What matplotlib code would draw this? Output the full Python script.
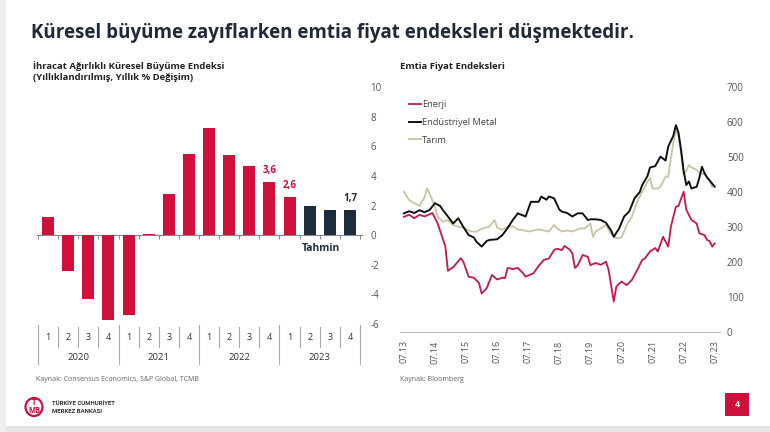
import matplotlib
matplotlib.use("Agg")
import matplotlib.pyplot as plt
import matplotlib.transforms as mtransforms
from matplotlib.patches import Rectangle, Ellipse
import numpy as np
import pandas as pd

plt.rcParams['font.family'] = ['Open Sans', 'DejaVu Sans']

# ---------------- data: left chart ----------------
quarters = ["1", "2", "3", "4"] * 4
years = ["2020", "2021", "2022", "2023"]
growth = [1.2, -2.4, -4.3, -5.7, -5.4, 0.05, 2.8, 5.5, 7.2, 5.4, 4.7, 3.6, 2.6, 2.0, 1.7, 1.7]
is_forecast = [False] * 13 + [True] * 3
bar_labels = {11: "3,6", 12: "2,6", 15: "1,7"}
left_yticks = [-6, -4, -2, 0, 2, 4, 6, 8, 10]

# ---------------- data: right chart (months after 2013-07) ----------------
energy_m = [0, 2, 4, 6, 8, 11, 13, 16, 17, 19, 22, 23, 25, 27, 29, 30, 32, 34, 36, 38, 39, 40, 42, 44,
            46, 47, 50, 52, 54, 56, 58, 59, 61, 62, 64, 65, 66, 67, 69, 71, 72, 74, 76, 78, 79, 81, 82,
            84, 86, 88, 90, 92, 93, 95, 97, 98, 100, 102, 103, 105, 106, 108, 109, 111, 113, 114, 116,
            117, 118, 119, 120]
energy_v = [329, 335, 325, 335, 330, 340, 311, 244, 175, 185, 211, 200, 158, 155, 140, 110, 125, 163,
            150, 155, 154, 183, 180, 183, 168, 158, 168, 189, 206, 210, 234, 238, 234, 246, 235, 225,
            183, 190, 220, 215, 191, 197, 192, 201, 177, 87, 130, 144, 134, 149, 177, 206, 210, 230,
            240, 230, 272, 244, 301, 358, 360, 401, 349, 320, 310, 282, 277, 263, 260, 244, 253]

metal_m = [0, 2, 4, 6, 8, 10, 12, 14, 15, 17, 19, 21, 23, 25, 27, 28, 30, 32, 33, 36, 38, 40, 42, 44,
           47, 49, 52, 53, 55, 56, 58, 60, 61, 63, 65, 67, 69, 71, 72, 74, 76, 78, 80, 81, 83, 85, 87,
           89, 91, 92, 94, 95, 97, 99, 101, 102, 104, 105, 106, 107, 108, 109, 110, 111, 113, 114, 115,
           116, 117, 119, 120]
metal_v = [339, 345, 340, 348, 342, 349, 368, 360, 349, 330, 310, 325, 300, 277, 270, 258, 244, 260,
           263, 265, 277, 297, 320, 339, 330, 372, 372, 387, 378, 387, 382, 350, 344, 340, 330, 339,
           339, 320, 322, 322, 320, 312, 290, 272, 295, 330, 345, 382, 400, 420, 445, 470, 474, 501,
           490, 530, 560, 591, 570, 520, 460, 420, 430, 410, 415, 440, 472, 455, 442, 424, 415]

agri_m = [0, 2, 4, 6, 8, 9, 10, 12, 13, 15, 17, 19, 21, 23, 26, 28, 30, 33, 35, 36, 38, 40, 42, 44, 46,
          48, 50, 52, 54, 56, 58, 59, 61, 63, 65, 68, 70, 72, 73, 74, 76, 78, 80, 82, 84, 86, 88, 90, 92,
          94, 95, 96, 98, 99, 101, 102, 103, 104, 105, 106, 107, 108, 109, 110, 111, 113, 114, 116, 118,
          119]
agri_v = [401, 377, 368, 360, 385, 410, 395, 358, 330, 315, 320, 305, 301, 298, 287, 287, 295, 301, 320,
          298, 292, 301, 302, 293, 291, 287, 290, 293, 290, 287, 306, 297, 287, 290, 287, 296, 296, 310,
          272, 287, 296, 306, 280, 268, 270, 306, 330, 372, 400, 429, 440, 410, 410, 415, 444, 444, 496,
          540, 577, 560, 506, 450, 460, 477, 470, 463, 455, 450, 434, 415]

series_names = ["Enerji", "Endüstriyel Metal", "Tarım"]
right_yticks = [0, 100, 200, 300, 400, 500, 600, 700]
start = pd.Timestamp("2013-07-01")
tick_years = list(range(2013, 2024))

# ---------------- styles ----------------
RED = "#d0103a"
DARK = "#1d2d3c"
ENERGY_C = "#c8174a"
METAL_C = "#111111"
AGRI_C = "#c9c4a2"
GREY_TXT = "#555555"
NAVY = "#1e2a3a"

W, H = 770, 432
fig = plt.figure(figsize=(W / 100, H / 100), dpi=100, facecolor="white")


def fx(px):
    return px / W


def fy(py):
    return 1 - py / H


# Title
fig.text(fx(31), fy(38), "Küresel büyüme zayıflarken emtia fiyat endeksleri düşmektedir.",
         fontsize=13.5, fontweight="bold", color=NAVY, va="baseline", ha="left")

# ---------------- left chart ----------------
axL = fig.add_axes([fx(37), fy(324), fx(362) - fx(37), fy(87) - fy(324)])
axL.set_facecolor("none")
x = np.arange(len(growth))
colors = [DARK if f else RED for f in is_forecast]
axL.bar(x, growth, width=0.6, color=colors, zorder=3)
axL.set_xlim(-0.55, 15.6)
axL.set_ylim(-6, 10)
for s in ["top", "left", "right"]:
    axL.spines[s].set_visible(False)
axL.spines["bottom"].set_position(("data", 0))
axL.spines["bottom"].set_color("#888888")
axL.spines["bottom"].set_linewidth(0.8)
axL.set_xticks(np.arange(-0.5, 16, 1.0))
axL.set_xticklabels([])
axL.tick_params(axis="x", direction="out", length=3, color="#888888", width=0.7)
axL.yaxis.tick_right()
axL.set_yticks(left_yticks)
axL.set_yticklabels([str(v) for v in left_yticks])
axL.tick_params(axis="y", length=0, labelsize=7, labelcolor=GREY_TXT, pad=6)
for i, lab in bar_labels.items():
    c = DARK if is_forecast[i] else RED
    axL.annotate(lab, (x[i], growth[i]), xytext=(0, 4), textcoords="offset points",
                 ha="center", va="bottom", fontsize=7, fontweight="bold", color=c)
axL.text(13.55, -0.55, "Tahmin", ha="center", va="top", fontsize=7.5, fontweight="bold", color=DARK)

# category table under the chart
trans = mtransforms.blended_transform_factory(axL.transData, fig.transFigure)
for i, q in enumerate(quarters):
    axL.text(i, fy(338), q, transform=trans, ha="center", va="center", fontsize=6.5, color="#333333")
for k in range(17):
    xb = k - 0.5
    if k % 4 == 0:
        axL.plot([xb, xb], [fy(325), fy(364)], transform=trans, color="#aaaaaa", lw=0.8, clip_on=False)
    else:
        axL.plot([xb, xb], [fy(327), fy(347)], transform=trans, color="#aaaaaa", lw=0.8, clip_on=False)
for j, yr in enumerate(years):
    axL.text(4 * j + 1.5, fy(358), yr, transform=trans, ha="center", va="center", fontsize=6.8,
             color="#333333")

fig.text(fx(33), fy(69), "İhracat Ağırlıklı Küresel Büyüme Endeksi", fontsize=6.8, fontweight="bold",
         color="#222222", va="baseline")
fig.text(fx(33), fy(80), "(Yıllıklandırılmış, Yıllık % Değişim)", fontsize=6.8, fontweight="bold",
         color="#222222", va="baseline")
fig.text(fx(36), fy(381), "Kaynak: Consensus Economics, S&P Global, TCMB", fontsize=5, color="#666666",
         va="baseline")

# ---------------- right chart ----------------
axR = fig.add_axes([fx(400), fy(332), fx(720) - fx(400), fy(87) - fy(332)])
axR.set_facecolor("none")


def to_dates(months):
    return [start + pd.DateOffset(months=int(m)) for m in months]


axR.plot(to_dates(agri_m), agri_v, color=AGRI_C, lw=1.3, label=series_names[2], zorder=2)
axR.plot(to_dates(energy_m), energy_v, color=ENERGY_C, lw=1.3, label=series_names[0], zorder=3)
axR.plot(to_dates(metal_m), metal_v, color=METAL_C, lw=1.4, label=series_names[1], zorder=4)
axR.set_ylim(0, 700)
axR.set_xlim(start - pd.DateOffset(days=45), pd.Timestamp("2023-09-01"))
for s in ["top", "left", "right"]:
    axR.spines[s].set_visible(False)
axR.spines["bottom"].set_color("#bbbbbb")
axR.spines["bottom"].set_linewidth(0.8)
ticks = [pd.Timestamp(f"{y}-07-01") for y in tick_years]
axR.set_xticks(ticks)
axR.set_xticklabels([t.strftime("%m.%y") for t in ticks], rotation=90)
axR.tick_params(axis="x", length=0, labelsize=6.5, labelcolor=GREY_TXT, pad=6)
axR.yaxis.tick_right()
axR.set_yticks(right_yticks)
axR.tick_params(axis="y", length=0, labelsize=7, labelcolor=GREY_TXT, pad=5)

handles, labels = axR.get_legend_handles_labels()
order = [labels.index(n) for n in series_names]
leg = axR.legend([handles[i] for i in order], [labels[i] for i in order], loc="upper left",
                 bbox_to_anchor=(0.01, 0.97), frameon=False, fontsize=6.7, handlelength=1.3,
                 handletextpad=0.15, labelspacing=0.95, borderaxespad=0.2)
for t in leg.get_texts():
    t.set_color("#444444")

fig.text(fx(400), fy(69), "Emtia Fiyat Endeksleri", fontsize=6.8, fontweight="bold", color="#222222",
         va="baseline")
fig.text(fx(400), fy(381), "Kaynak: Bloomberg", fontsize=5, color="#666666", va="baseline")

# ---------------- footer ----------------
fig.patches.append(Ellipse((fx(34), fy(407)), fx(17), fy(390) - fy(408), transform=fig.transFigure,
                           fill=False, edgecolor=RED, lw=1.6))
fig.text(fx(34.5), fy(406.5), "T\nMB", fontsize=5.5, fontweight="bold", color=RED, ha="center",
         va="center", linespacing=0.9)
fig.text(fx(52), fy(405), "TÜRKİYE CUMHURİYET", fontsize=4.3, fontweight="bold", color="#333333",
         va="baseline", family=["Roboto", "DejaVu Sans"])
fig.text(fx(52), fy(413), "MERKEZ BANKASI", fontsize=4.3, fontweight="bold", color="#333333",
         va="baseline", family=["Roboto", "DejaVu Sans"])
fig.patches.append(Rectangle((fx(725), fy(416)), fx(24), fy(393) - fy(416), transform=fig.transFigure,
                             facecolor=RED, edgecolor="none"))
fig.text(fx(737), fy(404.5), "4", fontsize=6.5, fontweight="bold", color="white", ha="center",
         va="center")

# subtle grey page edges
fig.patches.append(Rectangle((0, 0), 1, fy(426), transform=fig.transFigure, facecolor="#e6e6e6",
                             edgecolor="none", zorder=-1))
fig.patches.append(Rectangle((0, 0), fx(6), 1, transform=fig.transFigure, facecolor="#eeeeee",
                             edgecolor="none", zorder=-1))

fig.savefig("out.png", dpi=100, facecolor="white")
